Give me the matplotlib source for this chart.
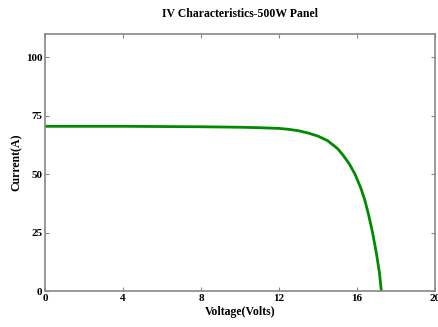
import matplotlib
matplotlib.use("Agg")
import matplotlib.pyplot as plt

# IV curve
voltage = [0, 2, 4, 6, 8, 10, 11, 12, 12.5, 13, 13.5, 14, 14.5, 15, 15.3,
           15.6, 15.9, 16.2, 16.4, 16.6, 16.8, 17.0, 17.15, 17.25]
current = [70.5, 70.5, 70.5, 70.4, 70.3, 70.1, 69.9, 69.6, 69.2, 68.6, 67.6,
           66.3, 64.3, 61.0, 58.0, 54.5, 50.0, 44.0, 39.0, 32.5, 25.0, 16.0,
           8.0, 0.0]

xticks = [0, 4, 8, 12, 16, 20]
yticks = [0, 25, 50, 75, 100]

plt.rcParams['font.family'] = ['Liberation Serif', 'DejaVu Serif']
plt.rcParams['font.weight'] = 'bold'

fig = plt.figure(figsize=(4.38, 3.27), dpi=100)
ax = fig.add_axes([0.103, 0.110, 0.890, 0.786])

ax.plot(voltage, current, color="#008a00", lw=2.0)

ax.set_xlim(0, 20)
ax.set_ylim(0, 110)
ax.set_xticks(xticks)
ax.set_yticks(yticks)
ax.tick_params(direction="in", length=3, width=0.8, color="#888888",
               labelsize=8, pad=2, top=True, right=True)
for lab in ax.get_xticklabels() + ax.get_yticklabels():
    lab.set_fontweight("bold")
for s in ax.spines.values():
    s.set_color("#888888")
    s.set_linewidth(1.2)

ax.set_xlabel("Voltage(Volts)", fontsize=8.5, fontweight="bold", labelpad=2)
ax.set_ylabel("Current(A)", fontsize=8.5, fontweight="bold", labelpad=2)
ax.set_title("IV Characteristics-500W Panel", fontsize=8.5, fontweight="bold",
             pad=12)

fig.savefig("out.png", dpi=100)
